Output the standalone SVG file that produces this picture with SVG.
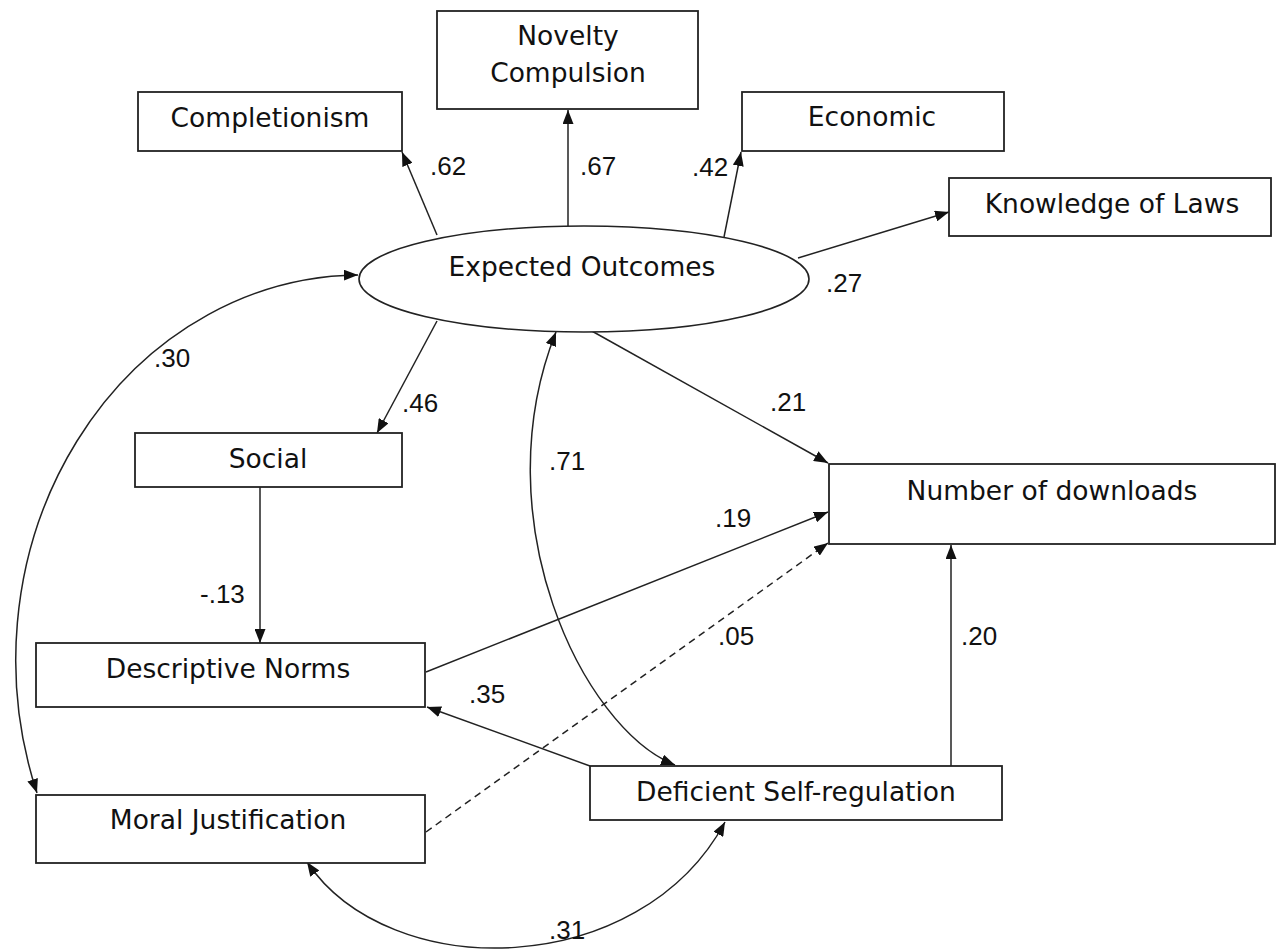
<svg xmlns="http://www.w3.org/2000/svg" width="1276" height="952" viewBox="0 0 1276 952">
<defs>
<marker id="ah" markerUnits="userSpaceOnUse" markerWidth="15" markerHeight="11" refX="14" refY="5.5" orient="auto-start-reverse"><path d="M0,0 L14,5.5 L0,11 z" fill="#111"/></marker>
<style>
.box{fill:#fff;stroke:#222;stroke-width:1.8}
.lbl{font-family:"DejaVu Sans",Verdana,sans-serif;font-size:26.5px;fill:#111;text-anchor:middle}
.num{font-family:"Liberation Sans",Arial,sans-serif;font-size:26px;fill:#111}
.c{fill:none;stroke:#222;stroke-width:1.5;marker-end:url(#ah)}
.d{stroke-dasharray:7 5}
.b{marker-start:url(#ah)}
</style>
</defs>
<rect width="1276" height="952" fill="#fff"/>
<g id="connectors">
<line class="c" x1="437" y1="235" x2="402" y2="152"/>
<line class="c" x1="568" y1="226" x2="568" y2="110"/>
<line class="c" x1="724" y1="237" x2="741" y2="152"/>
<line class="c" x1="798" y1="258" x2="949" y2="212"/>
<line class="c" x1="437" y1="321" x2="377" y2="433"/>
<line class="c" x1="260" y1="487" x2="260" y2="643"/>
<line class="c" x1="590" y1="330" x2="828" y2="463"/>
<line class="c" x1="426" y1="672" x2="828" y2="512"/>
<line class="c d" x1="426" y1="832" x2="828" y2="543"/>
<line class="c" x1="951" y1="766" x2="951" y2="545"/>
<line class="c" x1="590" y1="766" x2="427" y2="707"/>
<path class="c b" d="M37,793 A345 385 0 0 1 358 275"/>
<path class="c b" d="M556,332 C482,518 582,728 675,765"/>
<path class="c b" d="M307,862 C390,985 640,980 725,822"/>
<text class="num" x="430" y="175">.62</text>
<text class="num" x="580" y="175">.67</text>
<text class="num" x="692" y="176">.42</text>
<text class="num" x="826" y="292">.27</text>
<text class="num" x="154" y="367">.30</text>
<text class="num" x="402" y="412">.46</text>
<text class="num" x="770" y="411">.21</text>
<text class="num" x="549" y="470">.71</text>
<text class="num" x="715" y="527">.19</text>
<text class="num" x="200" y="603">-.13</text>
<text class="num" x="718" y="645">.05</text>
<text class="num" x="961" y="645">.20</text>
<text class="num" x="469" y="703">.35</text>
<text class="num" x="549" y="939">.31</text>
</g>
<g id="completionism"><rect class="box" x="138" y="92" width="264" height="59"/><text class="lbl" x="270" y="127">Completionism</text></g>
<g id="novelty"><rect class="box" x="437" y="11" width="261" height="98"/><text class="lbl" x="568" y="45">Novelty</text><text class="lbl" x="568" y="82">Compulsion</text></g>
<g id="economic"><rect class="box" x="742" y="92" width="262" height="59"/><text class="lbl" x="872" y="126">Economic</text></g>
<g id="knowledge"><rect class="box" x="949" y="178" width="322" height="58"/><text class="lbl" x="1112" y="213">Knowledge of Laws</text></g>
<g id="expected"><ellipse cx="584" cy="279" rx="225" ry="53" fill="#fff" stroke="#222" stroke-width="1.6"/><text class="lbl" x="582" y="276">Expected Outcomes</text></g>
<g id="social"><rect class="box" x="135" y="433" width="267" height="54"/><text class="lbl" x="268" y="468">Social</text></g>
<g id="downloads"><rect class="box" x="829" y="464" width="446" height="80"/><text class="lbl" x="1052" y="500">Number of downloads</text></g>
<g id="descriptive"><rect class="box" x="36" y="643" width="389" height="64"/><text class="lbl" x="228" y="678">Descriptive Norms</text></g>
<g id="deficient"><rect class="box" x="590" y="766" width="412" height="54"/><text class="lbl" x="796" y="801">Deficient Self-regulation</text></g>
<g id="moral"><rect class="box" x="36" y="795" width="389" height="68"/><text class="lbl" x="228" y="829">Moral Justification</text></g>
</svg>
